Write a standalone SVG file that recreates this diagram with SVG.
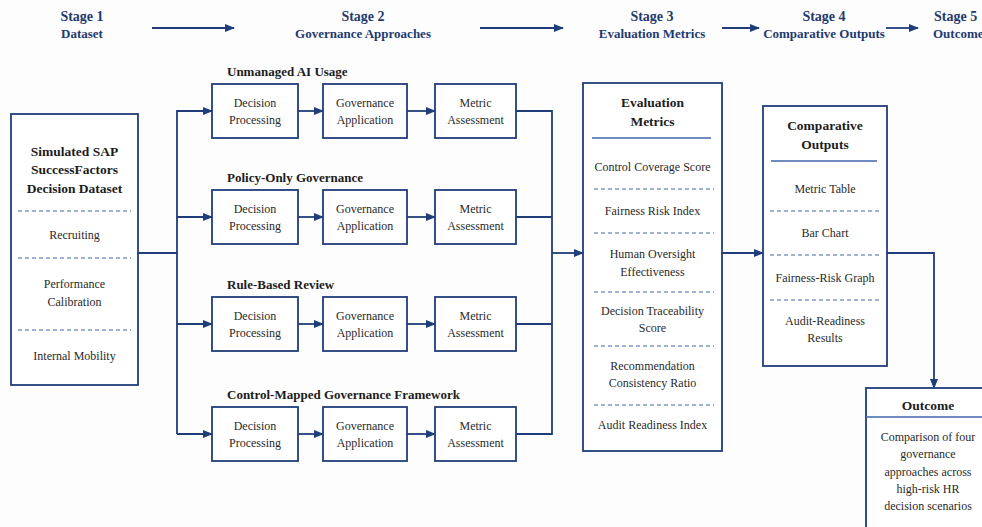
<svg xmlns="http://www.w3.org/2000/svg" width="982" height="527" viewBox="0 0 982 527">
<defs>
<marker id="ah" markerUnits="userSpaceOnUse" markerWidth="10" markerHeight="10" viewBox="0 0 10 10" refX="9" refY="5" orient="auto">
<path d="M0,1 L10,5 L0,9 Z" fill="#1f3d7a"/>
</marker>
<style>
.bg{fill:#fdfdfd}
.box{fill:#ffffff;stroke:#1f3d7a;stroke-width:1.8}
.ln{fill:none;stroke:#1f3d7a;stroke-width:1.8}
.ar{fill:none;stroke:#1f3d7a;stroke-width:1.8;marker-end:url(#ah)}
.dash{stroke:#3f66ad;stroke-width:1;stroke-dasharray:4 3}
.sol{stroke:#3f66ad;stroke-width:1.3}
.hd{font-family:"Liberation Serif",serif;font-weight:bold;fill:#1f3a70;text-anchor:middle}
.t{font-family:"Liberation Serif",serif;font-size:12px;fill:#2a2a2a;text-anchor:middle}
.tb{font-family:"Liberation Serif",serif;font-size:13.5px;font-weight:bold;fill:#1c1c1c;text-anchor:middle}
.lb{font-family:"Liberation Serif",serif;font-size:13px;font-weight:bold;fill:#1c1c1c}
</style>
</defs>
<rect class="bg" x="0" y="0" width="982" height="527"/>

<g id="header">
<text class="hd" x="82" y="21" font-size="14">Stage 1</text>
<text class="hd" x="82" y="38" font-size="13">Dataset</text>
<text class="hd" x="363" y="21" font-size="14">Stage 2</text>
<text class="hd" x="363" y="38" font-size="13">Governance Approaches</text>
<text class="hd" x="652" y="21" font-size="14">Stage 3</text>
<text class="hd" x="652" y="38" font-size="13">Evaluation Metrics</text>
<text class="hd" x="824" y="21" font-size="14">Stage 4</text>
<text class="hd" x="824" y="38" font-size="13">Comparative Outputs</text>
<text class="hd" x="934" y="21" font-size="14" style="text-anchor:start">Stage 5</text>
<text class="hd" x="933" y="38" font-size="13" style="text-anchor:start">Outcome</text>
<line class="ar" x1="152" y1="28" x2="234" y2="28"/>
<line class="ar" x1="480" y1="28" x2="563" y2="28"/>
<line class="ar" x1="722" y1="28" x2="759" y2="28"/>
<line class="ar" x1="886" y1="28" x2="918" y2="28"/>
</g>

<g id="dataset">
<rect class="box" x="11" y="114" width="127" height="271"/>
<text class="tb" x="74.5" y="156">Simulated SAP</text>
<text class="tb" x="74.5" y="174">SuccessFactors</text>
<text class="tb" x="74.5" y="193">Decision Dataset</text>
<line class="dash" x1="18" y1="211" x2="131" y2="211"/>
<text class="t" x="74.5" y="239">Recruiting</text>
<line class="dash" x1="18" y1="258" x2="131" y2="258"/>
<text class="t" x="74.5" y="288">Performance</text>
<text class="t" x="74.5" y="306">Calibration</text>
<line class="dash" x1="18" y1="330" x2="131" y2="330"/>
<text class="t" x="74.5" y="360">Internal Mobility</text>
</g>

<g id="row1">
<text class="lb" x="227" y="76">Unmanaged AI Usage</text>
<rect class="box" x="212" y="84" width="86" height="54"/>
<text class="t" x="255" y="107">Decision</text><text class="t" x="255" y="124">Processing</text>
<rect class="box" x="323" y="84" width="84" height="54"/>
<text class="t" x="365" y="107">Governance</text><text class="t" x="365" y="124">Application</text>
<rect class="box" x="435" y="84" width="81" height="54"/>
<text class="t" x="475.5" y="107">Metric</text><text class="t" x="475.5" y="124">Assessment</text>
</g>

<g id="row2">
<text class="lb" x="227" y="182">Policy-Only Governance</text>
<rect class="box" x="212" y="190" width="86" height="54"/>
<text class="t" x="255" y="213">Decision</text><text class="t" x="255" y="230">Processing</text>
<rect class="box" x="323" y="190" width="84" height="54"/>
<text class="t" x="365" y="213">Governance</text><text class="t" x="365" y="230">Application</text>
<rect class="box" x="435" y="190" width="81" height="54"/>
<text class="t" x="475.5" y="213">Metric</text><text class="t" x="475.5" y="230">Assessment</text>
</g>

<g id="row3">
<text class="lb" x="227" y="289">Rule-Based Review</text>
<rect class="box" x="212" y="297" width="86" height="54"/>
<text class="t" x="255" y="320">Decision</text><text class="t" x="255" y="337">Processing</text>
<rect class="box" x="323" y="297" width="84" height="54"/>
<text class="t" x="365" y="320">Governance</text><text class="t" x="365" y="337">Application</text>
<rect class="box" x="435" y="297" width="81" height="54"/>
<text class="t" x="475.5" y="320">Metric</text><text class="t" x="475.5" y="337">Assessment</text>
</g>

<g id="row4">
<text class="lb" x="227" y="399">Control-Mapped Governance Framework</text>
<rect class="box" x="212" y="407" width="86" height="54"/>
<text class="t" x="255" y="430">Decision</text><text class="t" x="255" y="447">Processing</text>
<rect class="box" x="323" y="407" width="84" height="54"/>
<text class="t" x="365" y="430">Governance</text><text class="t" x="365" y="447">Application</text>
<rect class="box" x="435" y="407" width="81" height="54"/>
<text class="t" x="475.5" y="430">Metric</text><text class="t" x="475.5" y="447">Assessment</text>
</g>

<g id="evaluation">
<rect class="box" x="583" y="83" width="139" height="368"/>
<text class="tb" x="652.5" y="107">Evaluation</text>
<text class="tb" x="652.5" y="126">Metrics</text>
<line class="sol" x1="592" y1="138" x2="711" y2="138"/>
<text class="t" x="652.5" y="171">Control Coverage Score</text>
<line class="dash" x1="594" y1="189" x2="714" y2="189"/>
<text class="t" x="652.5" y="215">Fairness Risk Index</text>
<line class="dash" x1="594" y1="233" x2="714" y2="233"/>
<text class="t" x="652.5" y="258">Human Oversight</text>
<text class="t" x="652.5" y="276">Effectiveness</text>
<line class="dash" x1="594" y1="292" x2="714" y2="292"/>
<text class="t" x="652.5" y="315">Decision Traceability</text>
<text class="t" x="652.5" y="332">Score</text>
<line class="dash" x1="594" y1="346" x2="714" y2="346"/>
<text class="t" x="652.5" y="370">Recommendation</text>
<text class="t" x="652.5" y="387">Consistency Ratio</text>
<line class="dash" x1="594" y1="405" x2="714" y2="405"/>
<text class="t" x="652.5" y="429">Audit Readiness Index</text>
</g>

<g id="comparative">
<rect class="box" x="763" y="106" width="124" height="260"/>
<text class="tb" x="825" y="130">Comparative</text>
<text class="tb" x="825" y="149">Outputs</text>
<line class="sol" x1="771" y1="161" x2="877" y2="161"/>
<text class="t" x="825" y="193">Metric Table</text>
<line class="dash" x1="770" y1="211" x2="880" y2="211"/>
<text class="t" x="825" y="237">Bar Chart</text>
<line class="dash" x1="770" y1="255" x2="880" y2="255"/>
<text class="t" x="825" y="282">Fairness-Risk Graph</text>
<line class="dash" x1="770" y1="300" x2="880" y2="300"/>
<text class="t" x="825" y="325">Audit-Readiness</text>
<text class="t" x="825" y="342">Results</text>
</g>

<g id="outcome">
<rect class="box" x="866" y="388" width="126" height="150"/>
<text class="tb" x="928" y="410" font-size="13">Outcome</text>
<line class="sol" x1="866" y1="417" x2="982" y2="417"/>
<text class="t" x="928" y="441" font-size="12.5">Comparison of four</text>
<text class="t" x="928" y="458" font-size="12.5">governance</text>
<text class="t" x="928" y="476" font-size="12.5">approaches across</text>
<text class="t" x="928" y="493" font-size="12.5">high-risk HR</text>
<text class="t" x="928" y="510" font-size="12.5">decision scenarios</text>
</g>

<g id="connectors">
<polyline class="ln" points="138,253 177,253"/>
<line class="ln" x1="177" y1="110" x2="177" y2="434"/>
<line class="ar" x1="177" y1="111" x2="212" y2="111"/>
<line class="ar" x1="177" y1="217" x2="212" y2="217"/>
<line class="ar" x1="177" y1="324" x2="212" y2="324"/>
<line class="ar" x1="177" y1="434" x2="212" y2="434"/>
<line class="ar" x1="298" y1="111" x2="323" y2="111"/>
<line class="ar" x1="407" y1="111" x2="435" y2="111"/>
<line class="ar" x1="298" y1="217" x2="323" y2="217"/>
<line class="ar" x1="407" y1="217" x2="435" y2="217"/>
<line class="ar" x1="298" y1="324" x2="323" y2="324"/>
<line class="ar" x1="407" y1="324" x2="435" y2="324"/>
<line class="ar" x1="298" y1="434" x2="323" y2="434"/>
<line class="ar" x1="407" y1="434" x2="435" y2="434"/>
<line class="ln" x1="516" y1="111" x2="552" y2="111"/>
<line class="ln" x1="516" y1="217" x2="552" y2="217"/>
<line class="ln" x1="516" y1="324" x2="552" y2="324"/>
<line class="ln" x1="516" y1="434" x2="552" y2="434"/>
<line class="ln" x1="552" y1="110" x2="552" y2="435"/>
<line class="ar" x1="552" y1="253" x2="583" y2="253"/>
<line class="ar" x1="722" y1="253" x2="763" y2="253"/>
<polyline class="ar" points="887,253 934,253 934,388"/>
</g>
</svg>
